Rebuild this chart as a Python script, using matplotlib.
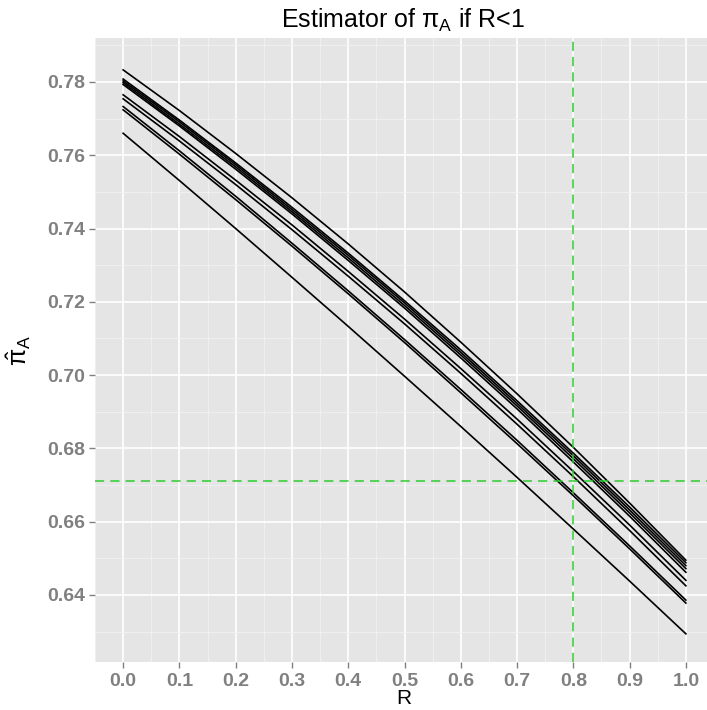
import matplotlib
matplotlib.use("Agg")
import matplotlib.pyplot as plt
from matplotlib.ticker import MultipleLocator

plt.rcParams['font.family'] = ['Liberation Sans', 'DejaVu Sans']
plt.rcParams['mathtext.fontset'] = 'custom'
plt.rcParams['mathtext.rm'] = 'Liberation Sans'
plt.rcParams['mathtext.it'] = 'Liberation Sans:italic'

# R values where each estimator curve was read off
r_vals = [0.0, 0.1, 0.2, 0.3, 0.4, 0.5, 0.6, 0.7, 0.8, 0.9, 1.0]

# estimated pi_A for each simulated sample
curves = [
    [0.7833, 0.7722, 0.7605, 0.7484, 0.7358, 0.7227, 0.7090, 0.6949, 0.6803, 0.6651, 0.6495],
    [0.7808, 0.7696, 0.7579, 0.7458, 0.7333, 0.7203, 0.7069, 0.6930, 0.6787, 0.6640, 0.6488],
    [0.7803, 0.7691, 0.7574, 0.7452, 0.7327, 0.7197, 0.7062, 0.6923, 0.6780, 0.6632, 0.6480],
    [0.7798, 0.7685, 0.7568, 0.7446, 0.7320, 0.7190, 0.7055, 0.6916, 0.6772, 0.6624, 0.6472],
    [0.7793, 0.7680, 0.7562, 0.7440, 0.7313, 0.7183, 0.7047, 0.6908, 0.6763, 0.6615, 0.6462],
    [0.7765, 0.7651, 0.7532, 0.7410, 0.7283, 0.7153, 0.7018, 0.6880, 0.6737, 0.6591, 0.6440],
    [0.7754, 0.7639, 0.7520, 0.7397, 0.7270, 0.7140, 0.7005, 0.6866, 0.6723, 0.6576, 0.6425],
    [0.7733, 0.7612, 0.7488, 0.7360, 0.7230, 0.7097, 0.6961, 0.6822, 0.6679, 0.6534, 0.6386],
    [0.7724, 0.7603, 0.7479, 0.7352, 0.7222, 0.7089, 0.6952, 0.6813, 0.6671, 0.6526, 0.6378],
    [0.7660, 0.7531, 0.7400, 0.7267, 0.7133, 0.6997, 0.6860, 0.6721, 0.6580, 0.6438, 0.6294],
]

x_ticks = [0.0, 0.1, 0.2, 0.3, 0.4, 0.5, 0.6, 0.7, 0.8, 0.9, 1.0]
y_ticks = [0.64, 0.66, 0.68, 0.70, 0.72, 0.74, 0.76, 0.78]

r_line = 0.8
pi_line = 0.6711

fig = plt.figure(figsize=(7.07, 7.10), dpi=100)
ax = fig.add_axes([95 / 707, 48 / 710, 619 / 707, 624 / 710])
ax.set_facecolor('#e5e5e5')

for c in curves:
    ax.plot(r_vals, c, color='black', lw=1.2, zorder=3)

ax.axvline(r_line, color='#2ecc2e', lw=1.1, ls=(0, (6, 4)), zorder=4)
ax.axhline(pi_line, color='#2ecc2e', lw=1.1, ls=(0, (6, 4)), zorder=4)

ax.set_xlim(-0.05, 1.05)
ax.set_ylim(0.62171, 0.792)
ax.xaxis.set_minor_locator(MultipleLocator(0.05))
ax.yaxis.set_minor_locator(MultipleLocator(0.01))
ax.grid(which='major', color='white', lw=1.2, zorder=1)
ax.grid(which='minor', color='#f2f2f2', lw=0.6, zorder=1)
ax.set_axisbelow(True)
for s in ax.spines.values():
    s.set_visible(False)

ax.tick_params(which='major', length=4, width=1, color='#808080',
               labelcolor='#808080', labelsize=14, pad=3)
ax.tick_params(axis='x', pad=4)
ax.tick_params(which='minor', length=0)
ax.set_xticks(x_ticks)
ax.set_xticklabels(['%.1f' % t for t in x_ticks], fontweight='bold')
ax.set_yticks(y_ticks)
ax.set_yticklabels(['%.2f' % t for t in y_ticks], fontweight='bold')

fig.text(404 / 707, 1 - 699 / 710, 'R', fontsize=15, ha='center', va='center')
ax.set_ylabel(r'$\mathregular{\hat{\pi}_A}$', fontsize=18, labelpad=10)
fig.text(403 / 707, 1 - 20 / 710, r'Estimator of $\mathregular{\pi_A}$ if R<1',
         fontsize=18, ha='center', va='center')

fig.savefig('out.png', dpi=100)
